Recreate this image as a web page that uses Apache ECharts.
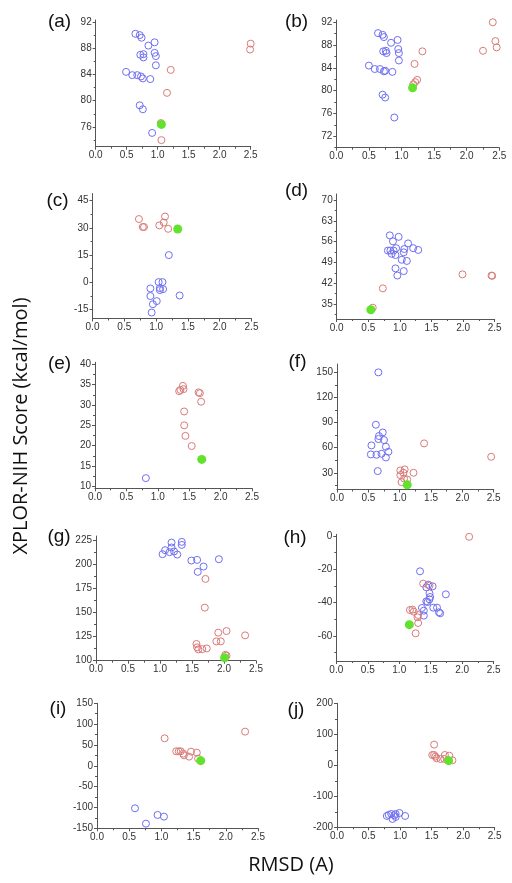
<!DOCTYPE html>
<html><head><meta charset="utf-8">
<script src="https://cdn.jsdelivr.net/npm/echarts@6/dist/echarts.min.js"></script>
<style>html,body{margin:0;padding:0;background:#fff}#c{width:512px;height:883px}</style>
</head><body><div id="c"></div>
<script>
// ---------- data ----------
const xTicks = [0, 0.5, 1.0, 1.5, 2.0, 2.5];

const aBlue = [[0.64,90.2],[0.71,90.0],[0.74,89.6],[0.95,88.9],[0.85,88.4],[0.95,87.3],[0.77,87.1],[0.72,87.0],[0.77,86.6],[0.97,86.8],[0.97,85.4],[0.49,84.4],[0.59,83.9],[0.67,83.9],[0.73,83.7],[0.76,83.4],[0.88,83.3],[0.71,79.3],[0.76,78.7],[0.91,75.1]];
const aRed = [[1.21,84.7],[1.15,81.2],[1.05,76.6],[1.06,74.0],[2.50,88.7],[2.49,87.8]];
const aGreen = [[1.06,76.4]];
const aTicks = [76,80,84,88,92];

const bBlue = [[0.64,90.1],[0.71,89.8],[0.73,89.4],[0.84,88.4],[0.94,88.9],[0.95,87.3],[0.72,86.9],[0.76,87.0],[0.77,86.6],[0.96,86.6],[0.96,85.3],[0.50,84.4],[0.59,83.8],[0.67,83.8],[0.73,83.4],[0.75,83.5],[0.86,83.3],[0.71,79.3],[0.75,78.8],[0.89,75.3]];
const bRed = [[1.32,86.9],[1.20,84.7],[1.24,81.9],[1.21,81.5],[1.18,81.1],[2.40,92.0],[2.44,88.7],[2.46,87.6],[2.25,87.0]];
const bGreen = [[1.17,80.5]];
const bTicks = [72,76,80,84,88,92];

const cRed = [[0.73,34.9],[0.79,30.5],[0.81,30.5],[1.05,31.4],[1.14,36.3],[1.12,33.0],[1.19,29.5]];
const cBlue = [[1.20,15.0],[1.04,0.1],[1.10,0.1],[0.91,-3.4],[1.06,-3.2],[1.11,-3.8],[1.06,-4.3],[0.91,-7.6],[1.37,-7.3],[1.01,-10.4],[0.95,-12.1],[0.93,-16.7]];
const cGreen = [[1.34,29.4]];
const cTicks = [-15,0,15,30,45];

const dBlue = [[0.84,58.1],[0.98,57.6],[0.89,56.1],[1.13,55.4],[0.81,53.0],[0.85,53.0],[0.90,53.0],[0.94,53.8],[1.07,53.5],[1.21,53.8],[1.29,53.2],[0.87,51.9],[0.93,51.5],[1.06,52.4],[1.03,49.9],[1.11,49.5],[0.93,47.0],[1.06,46.1],[0.96,44.6]];
const dRed = [[0.73,40.3],[0.57,33.8],[1.99,45.0],[2.45,44.6],[2.46,44.5]];
const dGreen = [[0.54,33.1]];
const dTicks = [35,42,49,56,63,70];

const eRed = [[1.40,34.7],[1.36,33.7],[1.34,33.4],[1.41,33.9],[1.65,33.1],[1.67,32.9],[1.69,30.8],[1.42,28.4],[1.42,25.0],[1.44,22.4],[1.54,19.9]];
const eBlue = [[0.81,12.0]];
const eGreen = [[1.70,16.6]];
const eTicks = [10,15,20,25,30,35,40];

const fBlue = [[0.66,150],[0.62,87.4],[0.73,78.2],[0.67,73.9],[0.66,70.3],[0.75,69.1],[0.55,62.7],[0.78,61.1],[0.82,55.1],[0.54,51.9],[0.63,51.5],[0.71,52.7],[0.78,48.3],[0.65,32.0]];
const fRed = [[1.39,65.1],[2.46,49.1],[1.01,32.8],[1.08,34.0],[1.06,30.0],[1.22,30.0],[1.01,27.2],[1.07,23.2],[1.12,22.0],[1.03,18.8]];
const fGreen = [[1.12,15.6]];
const fTicks = [30,60,90,120,150];

const gBlue = [[1.04,210.2],[1.08,214.3],[1.18,222.2],[1.18,217.1],[1.15,212.3],[1.22,213.0],[1.27,209.8],[1.34,222.9],[1.34,219.8],[1.49,203.6],[1.58,204.3],[1.92,205.0],[1.68,197.4],[1.59,191.9]];
const gRed = [[1.71,184.6],[1.70,154.9],[2.33,126.2],[2.04,130.7],[1.91,129.0],[1.88,120.0],[1.95,120.0],[1.57,117.3],[1.58,113.8],[1.60,111.7],[1.66,112.0],[1.73,112.7],[2.02,106.1],[2.04,105.2]];
const gGreen = [[2.01,103.1]];
const gTicks = [100,125,150,175,200,225];

const hRed = [[2.11,-0.5],[1.38,-28.6],[1.48,-29.8],[1.17,-44.4],[1.21,-44.2],[1.23,-45.4],[1.30,-47.4],[1.29,-48.8],[1.30,-52.2],[1.26,-58.4]];
const hBlue = [[1.33,-21.2],[1.46,-29.2],[1.53,-30.2],[1.43,-30.8],[1.74,-35.0],[1.48,-34.4],[1.49,-36.6],[1.48,-38.0],[1.43,-39.2],[1.45,-39.6],[1.36,-43.2],[1.54,-43.0],[1.60,-43.0],[1.39,-44.8],[1.63,-45.8],[1.65,-46.4],[1.39,-47.8]];
const hGreen = [[1.16,-53.2]];
const hTicks = [-60,-40,-20,0];

const iRed = [[1.05,66],[2.30,82],[1.23,34.8],[1.27,34.8],[1.30,34.8],[1.34,29.2],[1.35,25.2],[1.46,34],[1.55,31.6],[1.43,22],[1.57,17.2]];
const iBlue = [[0.59,-102],[0.94,-118],[1.04,-122],[0.76,-138.8]];
const iGreen = [[1.61,12.4]];
const iTicks = [-150,-100,-50,0,50,100,150];

const jRed = [[1.54,66.7],[1.51,33.3],[1.54,33.3],[1.56,28],[1.58,22.6],[1.64,20.4],[1.71,33.3],[1.78,31.2],[1.83,16.1],[1.76,16.1],[1.70,20.4]];
const jBlue = [[0.79,-163.4],[0.86,-157],[0.93,-157],[0.91,-161],[0.88,-173],[0.93,-166.7],[0.99,-153.8],[1.08,-163.4],[0.82,-160]];
const jGreen = [[1.77,15]];
const jTicks = [-200,-100,0,100,200];

const panelNames = ['(a)','(b)','(c)','(d)','(e)','(f)','(g)','(h)','(i)','(j)'];
const yTitle = 'XPLOR-NIH Score (kcal/mol)';
const xTitle = 'RMSD (A)';

// ---------- layout ----------
const layout = [
  {grid:[95.7,20,155,126.7],   y:[73,92.3],  lab:[59.5,22]},
  {grid:[336.3,20,163,127.7],  y:[70,92.4],  lab:[296.5,22]},
  {grid:[92.5,193.5,159,125],  y:[-20,49],   lab:[57.5,200.5]},
  {grid:[336.7,194,158,125],   y:[30,72],    lab:[296.5,190.5]},
  {grid:[95,362.3,157,126],    y:[9.5,40.5], lab:[59.5,363.5]},
  {grid:[337,364,156.7,125.5], y:[10,160],   lab:[297.5,361.5]},
  {grid:[96,536,160,124.7],    y:[100,229],  lab:[59,536.5]},
  {grid:[336.3,534.3,157.4,126.7], y:[-75,1], lab:[295,537.5]},
  {grid:[97,703.3,161,125],    y:[-150,150], lab:[58,709]},
  {grid:[337,703.3,157.7,124], y:[-200,200], lab:[296,710]}
];
const sets = [
  [aBlue,aRed,aGreen,aTicks],[bBlue,bRed,bGreen,bTicks],[cBlue,cRed,cGreen,cTicks],
  [dBlue,dRed,dGreen,dTicks],[eBlue,eRed,eGreen,eTicks],[fBlue,fRed,fGreen,fTicks],
  [gBlue,gRed,gGreen,gTicks],[hBlue,hRed,hGreen,hTicks],[iBlue,iRed,iGreen,iTicks],
  [jBlue,jRed,jGreen,jTicks]
];

const BLUE = '#6f6ff2', RED = '#d97b78', GREEN = '#62e22c';
const AX = '#555';
const lblStyle = {color:'#333', fontSize:10, fontFamily:'Liberation Sans, Arial, sans-serif'};

const grids = [], xAxes = [], yAxes = [], minorY = [], series = [], graphics = [];
layout.forEach((L, i) => {
  const [l,t,w,h] = L.grid;
  grids.push({left:l, top:t, width:w, height:h, containLabel:false});
  xAxes.push({
    type:'value', gridIndex:i, min:0, max:2.5, interval:0.5,
    axisLine:{show:true, onZero:false, lineStyle:{color:AX, width:1}},
    axisTick:{show:true, length:3, lineStyle:{color:AX}},
    minorTick:{show:true, splitNumber:2, length:2, lineStyle:{color:AX}},
    splitLine:{show:false},
    axisLabel:Object.assign({margin:4, formatter:v=>v.toFixed(1), showMinLabel:true, showMaxLabel:true}, lblStyle)
  });
  const ticks = sets[i][3];
  yAxes.push({
    type:'value', gridIndex:i, min:L.y[0], max:L.y[1],
    axisLine:{show:true, onZero:false, lineStyle:{color:AX, width:1}},
    axisTick:{show:true, length:3, customValues:ticks, lineStyle:{color:AX}},
    splitLine:{show:false},
    axisLabel:Object.assign({margin:4, customValues:ticks}, lblStyle)
  });
  // minor ticks halfway between labelled ticks (and one step beyond, if inside range)
  const step = ticks[1] - ticks[0];
  const mins = [];
  for (let k = -1; k < ticks.length; k++) {
    const v = ticks[0] + (k + 0.5) * step;
    if (v >= L.y[0] && v <= L.y[1]) mins.push(v);
  }
  minorY.push({
    type:'value', gridIndex:i, min:L.y[0], max:L.y[1], position:'left',
    axisLine:{show:false}, splitLine:{show:false}, axisLabel:{show:false},
    axisTick:{show:true, length:2, customValues:mins, lineStyle:{color:AX}}
  });
  const mk = (data, color, filled) => ({
    type:'scatter', xAxisIndex:i, yAxisIndex:i, data:data, symbol:'circle', symbolSize:filled?9:7,
    itemStyle: filled ? {color:color, borderColor:color, borderWidth:0, opacity:1}
                      : {color:'rgba(255,255,255,0)', borderColor:color, borderWidth:1, opacity:1},
    emphasis:{disabled:true}, silent:true, animation:false
  });
  series.push(mk(sets[i][0], BLUE, false));
  series.push(mk(sets[i][1], RED, false));
  series.push(mk(sets[i][2], GREEN, true));
  graphics.push({type:'text', x:L.lab[0], y:L.lab[1], style:{text:panelNames[i], fill:'#111',
    font:'19px "Liberation Sans", Arial, sans-serif', textAlign:'center', textVerticalAlign:'middle'}});
});
graphics.push({type:'text', x:21, y:426, rotation:Math.PI/2, style:{text:yTitle, fill:'#111',
  font:'20px "Open Sans", sans-serif', textAlign:'center', textVerticalAlign:'middle'}});
graphics.push({type:'text', x:291, y:865, style:{text:xTitle, fill:'#111',
  font:'20px "Open Sans", sans-serif', textAlign:'center', textVerticalAlign:'middle'}});

const chart = echarts.init(document.getElementById('c'), null, {renderer:'canvas'});
chart.setOption({animation:false, backgroundColor:'#fff', grid:grids, xAxis:xAxes,
  yAxis:yAxes.concat(minorY), series:series, graphic:graphics});
</script></body></html>
